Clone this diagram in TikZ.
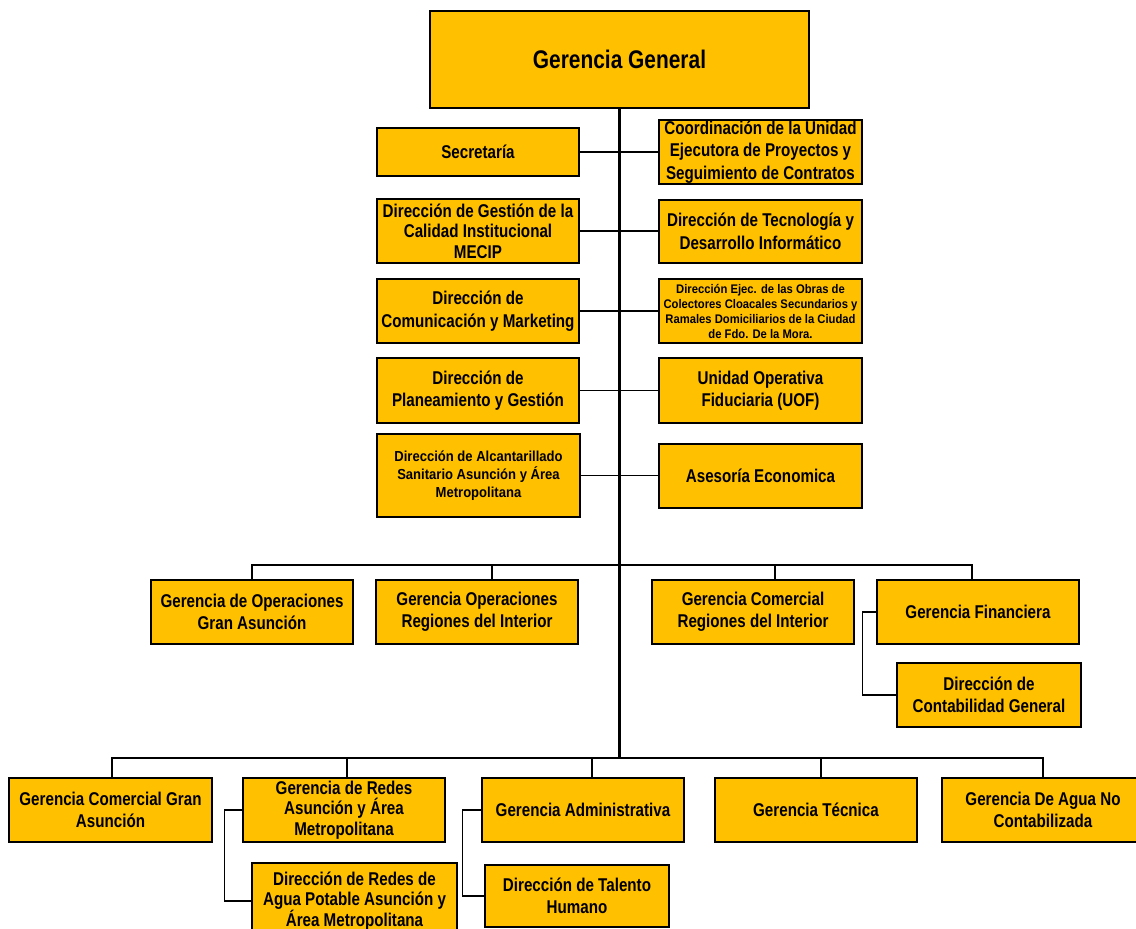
\documentclass[tikz,border=0pt]{standalone}
\usepackage{fontspec}
\setmainfont{Liberation Sans}[FakeStretch=0.82]
\newfontfamily\widefont{Liberation Sans}[FakeStretch=0.9]
\usetikzlibrary{positioning,calc}
\definecolor{gold}{HTML}{FFC000}
\tikzset{
  unit/.style={draw=black, line width=1.8pt, fill=gold, align=center, inner sep=1pt,
    minimum width=202pt, minimum height=64pt, font=\bfseries\fontsize{18.5}{22.5}\selectfont},
  tightunit/.style={unit, font=\bfseries\fontsize{18.5}{20.5}\selectfont},
  smallunit/.style={unit, font=\widefont\bfseries\fontsize{12.5}{15}\selectfont},
  link/.style={line width=1.2pt, draw=black},
  spine/.style={line width=3pt, draw=black}
}

\begin{document}
\begin{tikzpicture}[x=1pt, y=-1pt]
  \path[use as bounding box, fill=white] (0,0) rectangle (1136,929);

  % top
  \node[unit, minimum width=379pt, minimum height=97pt, font=\bfseries\fontsize{25.5}{30}\selectfont] (gg) at (619.5,59.5) {Gerencia General};

  % staff units
  \node[unit, minimum height=48pt] (sec) at (478,152) {Secretaría};
  \node[unit, minimum width=203pt] (coord) at (760.5,152) {Coordinación de la Unidad\\Ejecutora de Proyectos y\\Seguimiento de Contratos};
  \node[tightunit] (calidad) at (478,231) {Dirección de Gestión de la\\Calidad Institucional\\MECIP};
  \node[unit, minimum width=203pt, minimum height=63pt] (tecno) at (760.5,231.5) {Dirección de Tecnología y\\Desarrollo Informático};
  \node[unit] (comun) at (478,311) {Dirección de\\Comunicación y Marketing};
  \node[smallunit, minimum width=203pt] (obras) at (760.5,311) {Dirección Ejec. de las Obras de\\Colectores Cloacales Secundarios y\\Ramales Domiciliarios de la Ciudad\\de Fdo. De la Mora.};
  \node[unit, minimum height=65pt] (plan) at (478,390.5) {Dirección de\\Planeamiento y Gestión};
  \node[unit, minimum width=203pt, minimum height=65pt] (uof) at (760.5,390.5) {Unidad Operativa\\Fiduciaria (UOF)};
  \node[unit, minimum width=203pt, minimum height=83pt, font=\widefont\bfseries\fontsize{14.5}{18}\selectfont] (alcant) at (478.5,475.5) {Dirección de Alcantarillado\\Sanitario Asunción y Área\\Metropolitana};
  \node[unit, minimum width=203pt] (asesor) at (760.5,476) {Asesoría Economica};

  % middle row
  \node[unit] (goga) at (252,612) {Gerencia de Operaciones\\Gran Asunción};
  \node[unit] (gori) at (477,612) {Gerencia Operaciones\\Regiones del Interior};
  \node[unit] (gcri) at (753,612) {Gerencia Comercial\\Regiones del Interior};
  \node[unit] (gfin) at (978,612) {Gerencia Financiera};
  \node[unit, minimum width=184pt] (dcg) at (989,695) {Dirección de\\Contabilidad General};

  % bottom row
  \node[unit, minimum width=203pt] (gcga) at (110.5,810) {Gerencia Comercial Gran\\Asunción};
  \node[tightunit] (gredes) at (344,810) {Gerencia de Redes\\Asunción y Área\\Metropolitana};
  \node[tightunit, minimum width=205pt, minimum height=76pt] (dredes) at (354.5,901) {Dirección de Redes de\\Agua Potable Asunción y\\Área Metropolitana};
  \node[unit] (gadm) at (583,810) {Gerencia Administrativa};
  \node[unit, minimum width=184pt, minimum height=62pt] (dth) at (577,896) {Dirección de Talento\\Humano};
  \node[unit] (gtec) at (816,810) {Gerencia Técnica};
  \node[unit] (gagua) at (1043,810) {Gerencia De Agua No\\Contabilizada};

  \coordinate (busA) at (619,565);
  \coordinate (busB) at (619,758);

  % connectors
  \draw[spine] (gg.south) -- (gg.south |- busB);
  \draw[link] (sec.east) -- (sec.east -| coord.west);
  \draw[link] (calidad.east) -- (calidad.east -| tecno.west);
  \draw[link] (comun.east) -- (comun.east -| obras.west);
  \draw[link] (plan.east) -- (plan.east -| uof.west);
  \draw[link] (alcant.east) -- (alcant.east -| asesor.west);

  \draw[link] (goga.north) |- (busA) -| ([xshift=-6pt]gfin.north);
  \draw[link] ([xshift=15pt]gori.north) -- ([xshift=15pt]gori.north |- busA);
  \draw[link] ([xshift=22pt]gcri.north) -- ([xshift=22pt]gcri.north |- busA);
  \draw[link] (gfin.west) -- ++(-14,0) |- (dcg.west);

  \draw[link] ([xshift=1.5pt]gcga.north) |- (busB) -| (gagua.north);
  \draw[link] ([xshift=3pt]gredes.north) -- ([xshift=3pt]gredes.north |- busB);
  \draw[link] ([xshift=9pt]gadm.north) -- ([xshift=9pt]gadm.north |- busB);
  \draw[link] ([xshift=5pt]gtec.north) -- ([xshift=5pt]gtec.north |- busB);
  \draw[link] (gredes.west) -- ++(-18,0) |- (dredes.west);
  \draw[link] (gadm.west) -- ++(-19,0) |- (dth.west);
\end{tikzpicture}
\end{document}
